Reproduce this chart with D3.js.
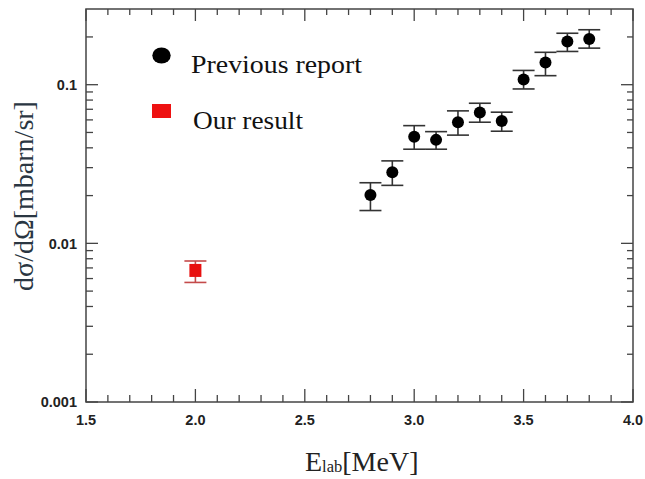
<!DOCTYPE html>
<html><head><meta charset="utf-8">
<script src="https://cdn.jsdelivr.net/npm/d3@7"></script>
<style>body{margin:0;background:#fff;}svg{display:block;}</style>
</head><body>
<svg id="c" width="645" height="479"></svg>
<script>
// Data
const prevE  = [2.8, 2.9, 3.0, 3.1, 3.2, 3.3, 3.4, 3.5, 3.6, 3.7, 3.8];
const prevY  = [0.0202, 0.0281, 0.0469, 0.0449, 0.058, 0.0667, 0.0591, 0.108, 0.138, 0.187, 0.194];
const prevLo = [0.0161, 0.0232, 0.0392, 0.0392, 0.0481, 0.058, 0.0509, 0.094, 0.114, 0.162, 0.170];
const prevHi = [0.0241, 0.0331, 0.0552, 0.0506, 0.0684, 0.0764, 0.0671, 0.123, 0.160, 0.211, 0.222];
const ourE  = [2.0];
const ourY  = [0.00675];
const ourLo = [0.00567];
const ourHi = [0.00774];
const xTickLabels = ["1.5", "2.0", "2.5", "3.0", "3.5", "4.0"];
const yTickLabels = ["0.001", "0.01", "0.1"];
const legendLabels = ["Previous report", "Our result"];

const svg = d3.select("#c");
const L = 86, R = 633, T = 9, B = 402;
const x = d3.scaleLinear().domain([1.5, 4.0]).range([L, R]);
const y = d3.scaleLog().domain([0.001, 0.3]).range([B, T]);

const frameCol = "#444";
// frame
svg.append("rect").attr("x", L).attr("y", T).attr("width", R - L).attr("height", B - T)
  .attr("fill", "none").attr("stroke", frameCol).attr("stroke-width", 1.5);

// x ticks
const xMajor = xTickLabels.map(Number);
const xMinor = d3.range(16, 40).map(d => d / 10).filter(v => !xMajor.some(m => Math.abs(m - v) < 1e-6));
const tg = svg.append("g").attr("stroke", frameCol).attr("stroke-width", 1.3);
xMajor.forEach(v => {
  tg.append("line").attr("x1", x(v)).attr("x2", x(v)).attr("y1", B).attr("y2", B - 13);
  tg.append("line").attr("x1", x(v)).attr("x2", x(v)).attr("y1", T).attr("y2", T + 12);
});
xMinor.forEach(v => {
  tg.append("line").attr("x1", x(v)).attr("x2", x(v)).attr("y1", B).attr("y2", B - 7);
  tg.append("line").attr("x1", x(v)).attr("x2", x(v)).attr("y1", T).attr("y2", T + 6);
});
// y ticks
const yMajor = yTickLabels.map(Number);
const yMinor = [];
[0.001, 0.01, 0.1].forEach(dec => { for (let k = 2; k <= 9; k++) { const v = dec * k; if (v < 0.3) yMinor.push(v); } });
yMajor.forEach(v => {
  tg.append("line").attr("x1", L).attr("x2", L + 12).attr("y1", y(v)).attr("y2", y(v));
  tg.append("line").attr("x1", R).attr("x2", R - 12).attr("y1", y(v)).attr("y2", y(v));
});
yMinor.forEach(v => {
  tg.append("line").attr("x1", L).attr("x2", L + 7).attr("y1", y(v)).attr("y2", y(v));
  tg.append("line").attr("x1", R).attr("x2", R - 6).attr("y1", y(v)).attr("y2", y(v));
});

// tick labels
const tickFont = "Liberation Sans, Arial, sans-serif";
svg.append("g").selectAll("text").data(xTickLabels).join("text")
  .attr("x", d => x(+d)).attr("y", 424.5).attr("text-anchor", "middle")
  .attr("font-family", tickFont).attr("font-weight", "bold").attr("font-size", 14.5).attr("fill", "#222")
  .text(d => d);
svg.append("g").selectAll("text").data(yTickLabels).join("text")
  .attr("x", 77).attr("y", d => y(+d)).attr("dy", "0.36em").attr("text-anchor", "end")
  .attr("font-family", tickFont).attr("font-weight", "bold").attr("font-size", 14.5).attr("fill", "#222")
  .text(d => d);

// error bars helper
function errBars(E, Lo, Hi, col) {
  const g = svg.append("g").attr("stroke", col).attr("stroke-width", 1.6);
  E.forEach((e, i) => {
    g.append("line").attr("x1", x(e)).attr("x2", x(e)).attr("y1", y(Lo[i])).attr("y2", y(Hi[i]));
    g.append("line").attr("x1", x(e) - 11).attr("x2", x(e) + 11).attr("y1", y(Lo[i])).attr("y2", y(Lo[i]));
    g.append("line").attr("x1", x(e) - 11).attr("x2", x(e) + 11).attr("y1", y(Hi[i])).attr("y2", y(Hi[i]));
  });
}
errBars(prevE, prevLo, prevHi, "#333");
errBars(ourE, ourLo, ourHi, "#c44a4a");

svg.append("g").selectAll("circle").data(prevE).join("circle")
  .attr("cx", d => x(d)).attr("cy", (d, i) => y(prevY[i])).attr("r", 6).attr("fill", "#000");
svg.append("g").selectAll("rect").data(ourE).join("rect")
  .attr("x", d => x(d) - 6).attr("y", (d, i) => y(ourY[i]) - 6.5).attr("width", 12).attr("height", 13)
  .attr("fill", "#e8100f");

// legend
svg.append("ellipse").attr("cx", 161.5).attr("cy", 55.5).attr("rx", 9.2).attr("ry", 8).attr("fill", "#000");
svg.append("rect").attr("x", 152).attr("y", 104).attr("width", 19).attr("height", 14).attr("fill", "#ee1111");
const serif = "Liberation Serif, Times New Roman, serif";
svg.append("text").attr("x", 191).attr("y", 72.5).attr("font-family", serif).attr("font-size", 26)
  .attr("textLength", 171).attr("lengthAdjust", "spacingAndGlyphs").attr("fill", "#111").text(legendLabels[0]);
svg.append("text").attr("x", 193).attr("y", 128.5).attr("font-family", serif).attr("font-size", 26)
  .attr("textLength", 110).attr("lengthAdjust", "spacingAndGlyphs").attr("fill", "#111").text(legendLabels[1]);

// axis titles
const xt = svg.append("text").attr("x", 305).attr("y", 470.5).attr("font-family", serif)
  .attr("font-size", 28).attr("fill", "#222");
xt.append("tspan").text("E");
xt.append("tspan").attr("font-size", 16.5).attr("dy", 1).text("lab");
xt.append("tspan").attr("dy", -1).text("[MeV]");

svg.append("text").attr("transform", "translate(33,196) rotate(-90)").attr("text-anchor", "middle")
  .attr("font-family", serif).attr("font-size", 28).attr("fill", "#2a3642")
  .text("dσ/dΩ[mbarn/sr]");
</script>
</body></html>
